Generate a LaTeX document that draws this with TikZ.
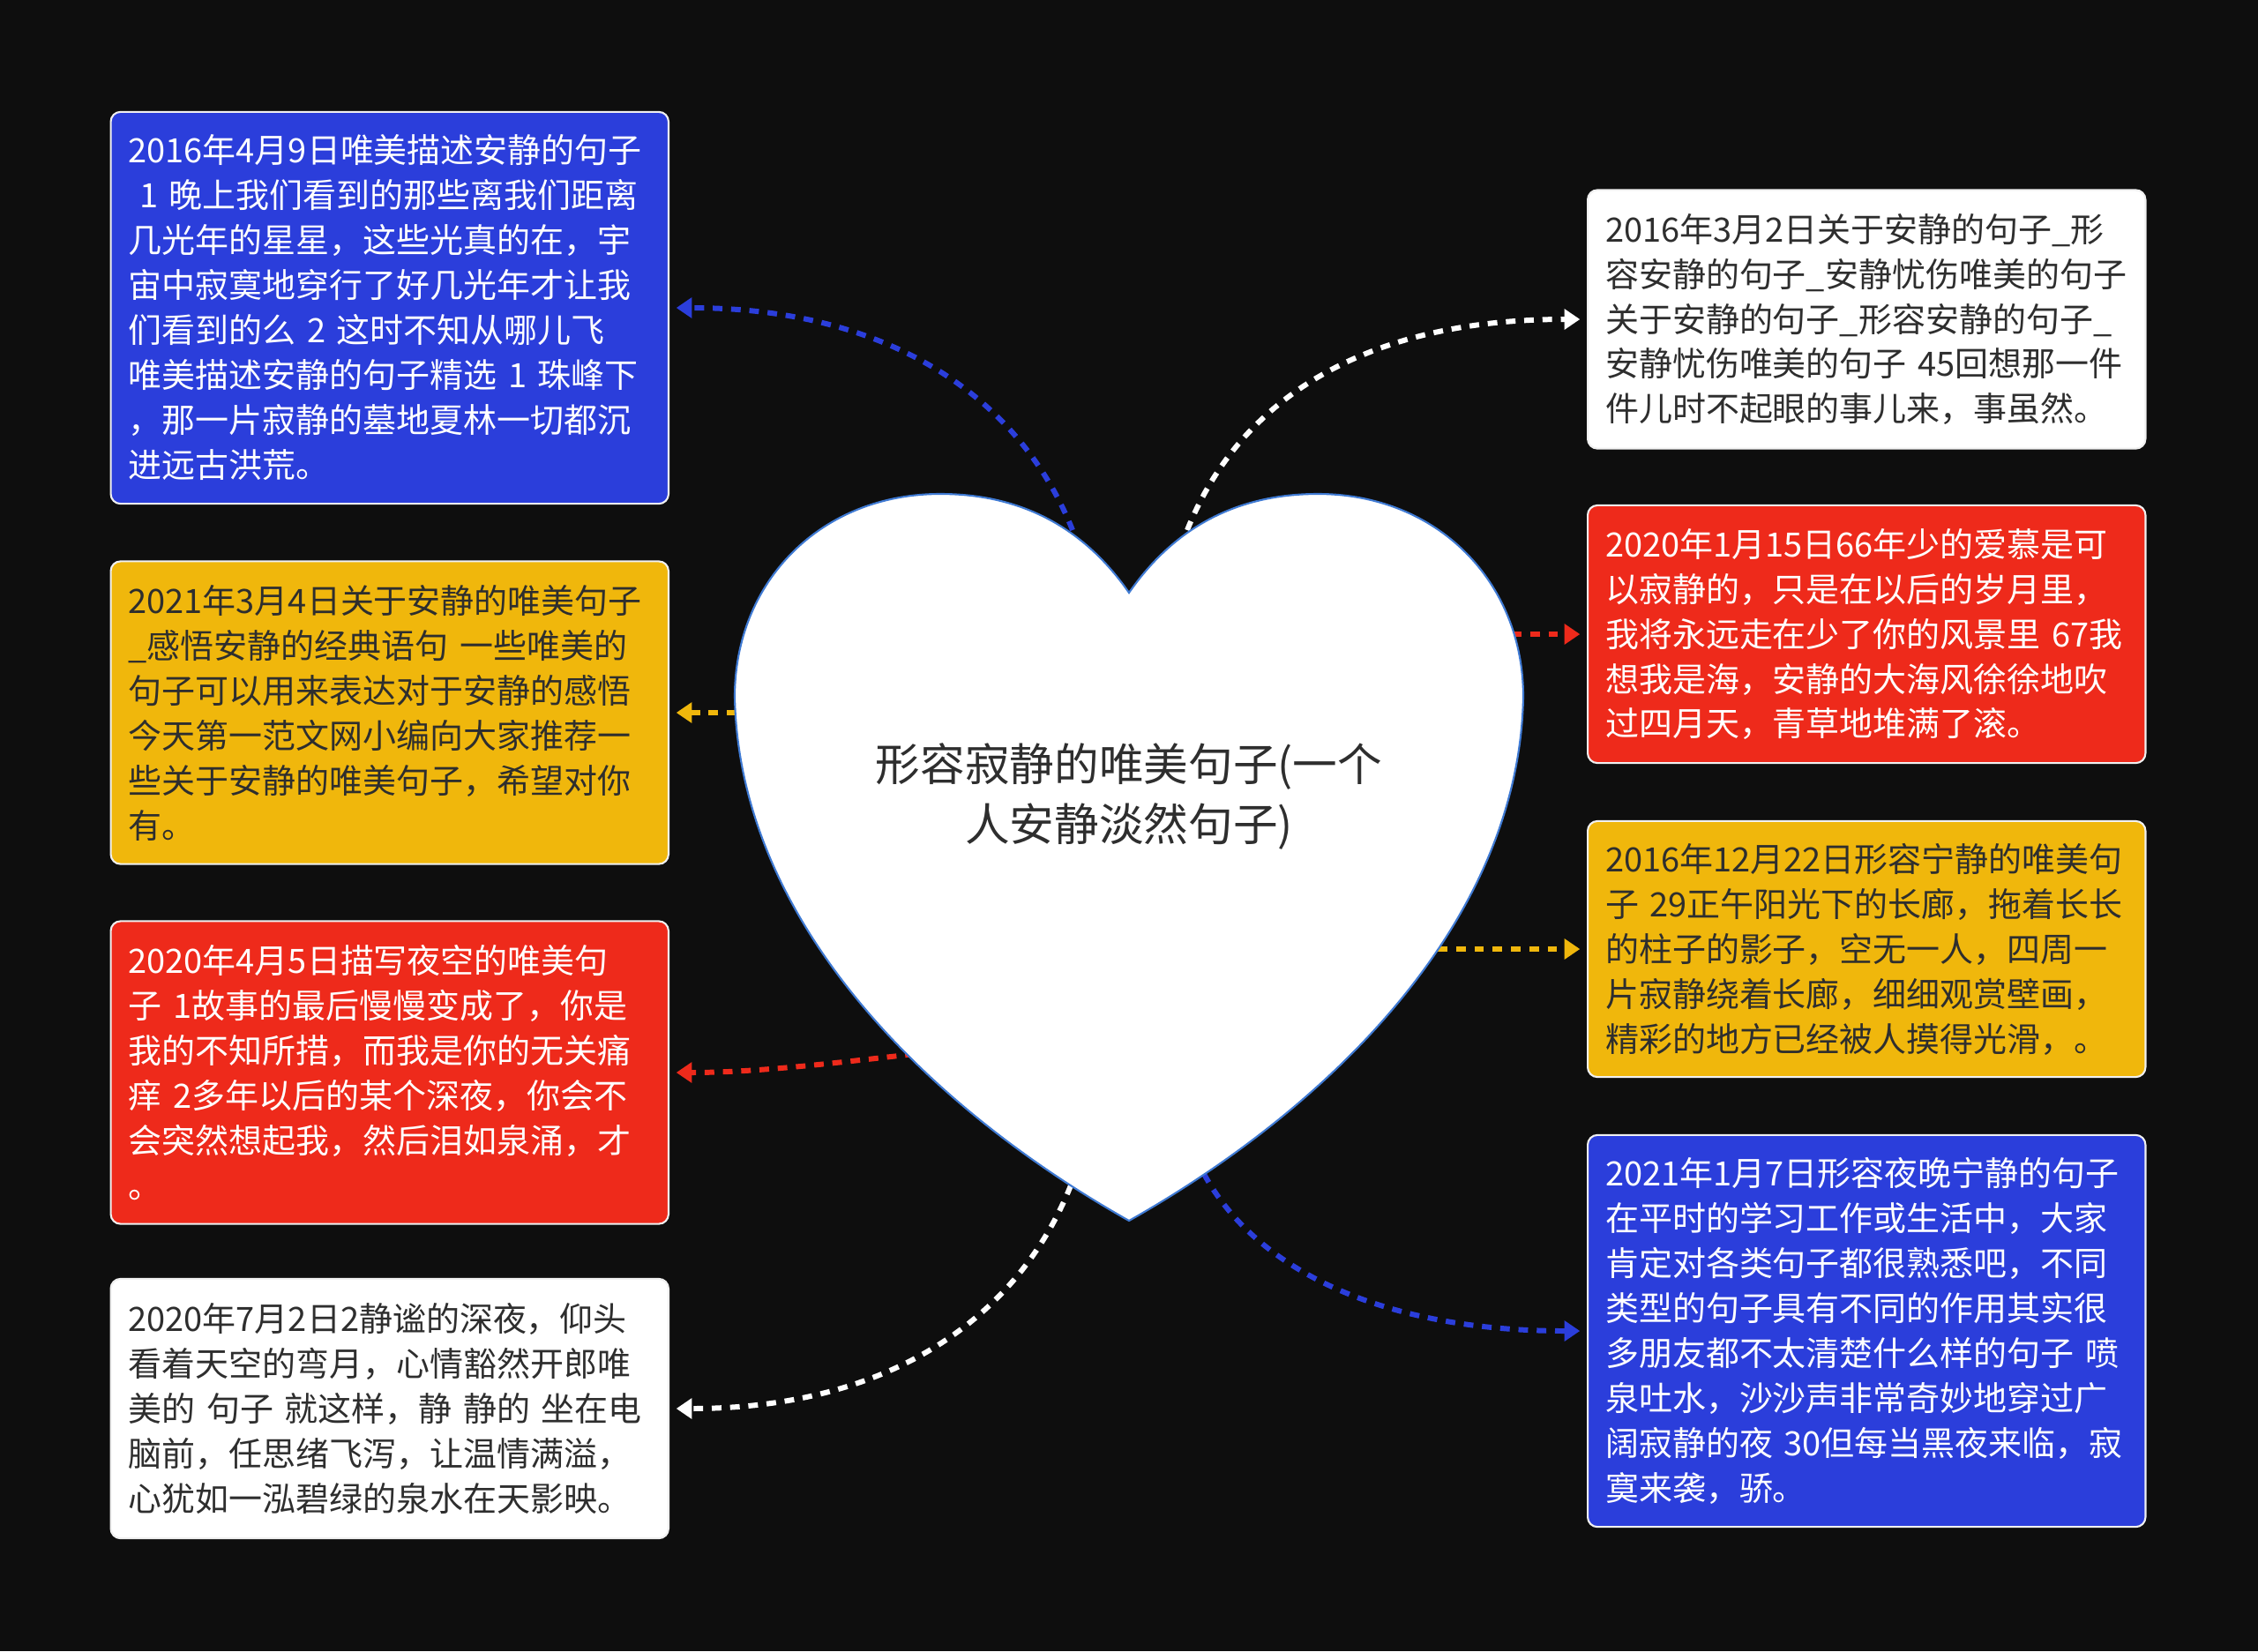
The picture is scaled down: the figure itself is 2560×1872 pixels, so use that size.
\documentclass[tikz,border=0pt]{standalone}
\usepackage{fontspec}
\setmainfont{Noto Sans CJK SC}
\usetikzlibrary{arrows.meta}

\definecolor{bgdark}{HTML}{0E0E0E}
\definecolor{cblue}{HTML}{2B3EDB}
\definecolor{cyellow}{HTML}{F0B70C}
\definecolor{cred}{HTML}{EE2A1B}
\definecolor{heartline}{HTML}{3F7AD3}
\definecolor{darktext}{HTML}{2E2E2E}

\begin{document}
\begin{tikzpicture}[x=0.01cm, y=-0.01cm,
  card/.style={draw=white!88!gray, line width=0.6pt, rounded corners=0.11cm,
    text width=5.92cm, inner xsep=0.2cm, inner ysep=0pt, align=left,
    font=\fontsize{10.8pt}{14.5pt}\selectfont},
  bluecard/.style={card, fill=cblue, text=white},
  yellowcard/.style={card, fill=cyellow, text=darktext},
  redcard/.style={card, fill=cred, text=white},
  whitecard/.style={card, fill=white, text=darktext},
  link/.style={line width=1.7pt, dash pattern=on 3.1pt off 2.8pt,
    -{Triangle[length=5pt,width=6.4pt]}, shorten >=2.2pt}]
% background
\fill[bgdark] (0,0) rectangle (2560,1872);
\useasboundingbox (0,0) rectangle (2560,1872);

% Left column
\node[bluecard, anchor=east, minimum height=4.44cm] (blueL) at (759,349)
  {2016年4月9日唯美描述安静的句子\\
   \ 1 晚上我们看到的那些离我们距离\\
   几光年的星星，这些光真的在，宇\\
   宙中寂寞地穿行了好几光年才让我\\
   们看到的么 2 这时不知从哪儿飞\\
   唯美描述安静的句子精选 1 珠峰下\\
   ，那一片寂静的墓地夏林一切都沉\\
   进远古洪荒。};
\node[yellowcard, anchor=east, minimum height=3.43cm] (yellowL) at (759,808)
  {2021年3月4日关于安静的唯美句子\\
   \_感悟安静的经典语句 一些唯美的\\
   句子可以用来表达对于安静的感悟\\
   今天第一范文网小编向大家推荐一\\
   些关于安静的唯美句子，希望对你\\
   有。};
\node[redcard, anchor=east, minimum height=3.43cm] (redL) at (759,1216)
  {2020年4月5日描写夜空的唯美句\\
   子 1故事的最后慢慢变成了，你是\\
   我的不知所措，而我是你的无关痛\\
   痒 2多年以后的某个深夜，你会不\\
   会突然想起我，然后泪如泉涌，才\\
   。};
\node[whitecard, anchor=east, minimum height=2.94cm] (whiteL) at (759,1597)
  {2020年7月2日2静谧的深夜，仰头\\
   看着天空的弯月，心情豁然开郎唯\\
   美的 句子 就这样，静 静的 坐在电\\
   脑前，任思绪飞泻，让温情满溢，\\
   心犹如一泓碧绿的泉水在天影映。};

% Right column
\node[whitecard, anchor=west, minimum height=2.93cm] (whiteR) at (1799,362)
  {2016年3月2日关于安静的句子\_形\\
   容安静的句子\_安静忧伤唯美的句子\\
   关于安静的句子\_形容安静的句子\_\\
   安静忧伤唯美的句子 45回想那一件\\
   件儿时不起眼的事儿来，事虽然。};
\node[redcard, anchor=west, minimum height=2.92cm] (redR) at (1799,719)
  {2020年1月15日66年少的爱慕是可\\
   以寂静的，只是在以后的岁月里，\\
   我将永远走在少了你的风景里 67我\\
   想我是海，安静的大海风徐徐地吹\\
   过四月天，青草地堆满了滚。};
\node[yellowcard, anchor=west, minimum height=2.90cm] (yellowR) at (1799,1076)
  {2016年12月22日形容宁静的唯美句\\
   子 29正午阳光下的长廊，拖着长长\\
   的柱子的影子，空无一人，四周一\\
   片寂静绕着长廊，细细观赏壁画，\\
   精彩的地方已经被人摸得光滑，。};
\node[bluecard, anchor=west, minimum height=4.44cm] (blueR) at (1799,1509)
  {2021年1月7日形容夜晚宁静的句子\\
   在平时的学习工作或生活中，大家\\
   肯定对各类句子都很熟悉吧，不同\\
   类型的句子具有不同的作用其实很\\
   多朋友都不太清楚什么样的句子 喷\\
   泉吐水，沙沙声非常奇妙地穿过广\\
   阔寂静的夜 30但每当黑夜来临，寂\\
   寞来袭，骄。};

% points on the heart
\coordinate (hBL) at (1216,601);
\coordinate (hYL) at (835,808);
\coordinate (hRL) at (1037,1195);
\coordinate (hWL) at (1214,1344);
\coordinate (hWR) at (1346,601);
\coordinate (hRR) at (1714,719);
\coordinate (hYR) at (1630,1076);
\coordinate (hBR) at (1365,1331);

% connectors
\draw[link, cblue] (hBL) .. controls +(-60,-150) and +(250,0) .. (blueL.east);
\draw[link, cyellow] (hYL) -- (yellowL.east);
\draw[link, cred] (hRL) .. controls +(-90,10) and +(100,0) .. (redL.east);
\draw[link, white] (hWL) .. controls +(-60,150) and +(250,0) .. (whiteL.east);
\draw[link, white] (hWR) .. controls +(60,-150) and +(-250,0) .. (whiteR.west);
\draw[link, cred] (hRR) -- (redR.west);
\draw[link, cyellow] (hYR) -- (yellowR.west);
\draw[link, cblue] (hBR) .. controls +(60,110) and +(-230,0) .. (blueR.west);

% Heart in the middle
\draw[fill=white, draw=heartline, line width=0.6pt]
  (1280,672) .. controls (1230,600) and (1160,560) .. (1066,560)
  .. controls (930,560) and (833,660) .. (833,790)
  .. controls (838,1050) and (1060,1260) .. (1280,1384)
  .. controls (1500,1260) and (1722,1050) .. (1727,790)
  .. controls (1727,660) and (1630,560) .. (1494,560)
  .. controls (1400,560) and (1330,600) .. (1280,672) -- cycle;
\node[text=darktext, align=center, font=\fontsize{14.4pt}{19.6pt}\selectfont]
  (title) at (1280,903) {形容寂静的唯美句子(一个\\人安静淡然句子)};
\end{tikzpicture}
\end{document}
